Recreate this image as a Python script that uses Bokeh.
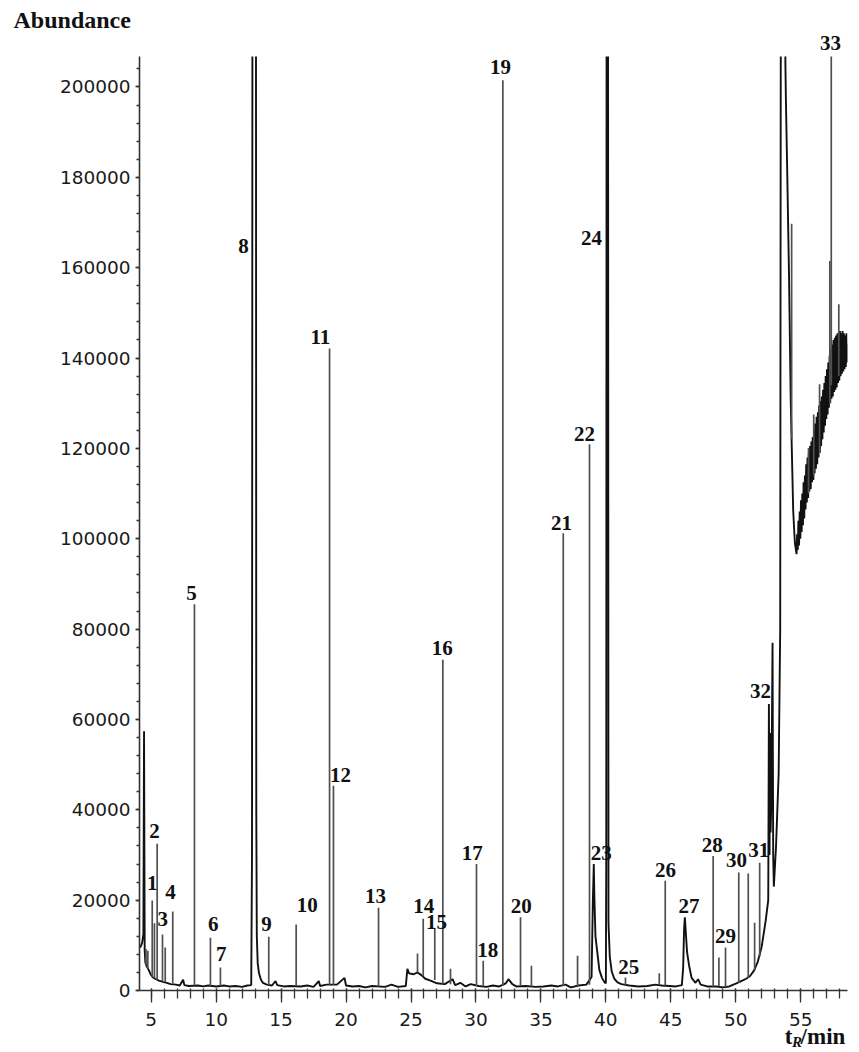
from bokeh.plotting import figure
from bokeh.models import (Range1d, FixedTicker, BasicTickFormatter, LinearAxis,
                          ColumnDataSource, LabelSet, Title)
from bokeh.core.properties import value
from bokeh.embed import file_html
from bokeh.resources import INLINE

# ---- chromatogram baseline / broad features (retention time, abundance) ----
base_t = [4.15, 4.30, 4.40, 4.45, 4.50, 4.55, 4.65, 4.80, 4.95, 5.10, 5.30, 5.60,
          5.90, 6.20, 6.50, 6.90, 7.20, 7.46, 7.55, 7.90, 8.60, 9.00, 9.40, 10.0,
          10.6, 11.0, 11.5, 12.0, 12.4, 12.70, 12.76, 12.80, 13.06, 13.09, 13.13,
          13.20, 13.30, 13.45, 13.60, 13.90, 14.3, 14.57, 14.7, 15.2, 15.7, 16.5,
          17.0, 17.5, 17.9, 18.0, 18.5, 19.3, 19.88, 20.0, 20.5, 21.0, 21.5, 22.0,
          23.0, 23.5, 24.0, 24.6, 24.72, 24.85, 25.2, 25.5, 25.8, 26.1, 26.5, 27.0,
          27.6, 28.2, 28.4, 28.8, 29.2, 29.6, 30.2, 30.8, 31.3, 31.8, 32.3, 32.5,
          32.8, 33.1, 33.8, 34.6, 35.2, 35.8, 36.3, 36.9, 37.3, 37.9, 38.5, 38.9,
          39.0, 39.07, 39.12, 39.2, 39.33, 39.5, 39.7, 39.9, 40.0, 40.03, 40.06,
          40.16, 40.2, 40.3, 40.45, 40.65, 40.9, 41.2, 41.8, 42.5, 43.2, 43.8,
          44.3, 44.9, 45.4, 45.85, 45.95, 46.02, 46.08, 46.15, 46.25, 46.4, 46.6,
          46.9, 47.1, 47.3, 47.8, 48.5, 49.0, 49.5, 50.0, 50.5, 50.8, 51.1, 51.4,
          51.7, 52.0, 52.3, 52.5, 52.55, 52.6, 52.64, 52.68, 52.74, 52.83, 52.88,
          52.93, 53.1, 53.3, 53.42, 53.48, 53.76, 53.82, 53.86, 53.95, 54.1,
          54.23, 54.42, 54.55, 54.68]
base_y = [9500, 10500, 12500, 57400, 9000, 6200, 5400, 4600, 3600, 3000, 2600, 2200,
          1900, 1700, 1400, 1300, 1100, 2400, 1200, 1000, 1100, 900, 1100, 900,
          1100, 900, 1000, 800, 1100, 1200, 30000, 260000, 260000, 40000, 12000,
          6000, 3800, 2400, 1700, 1300, 1100, 2100, 1200, 900, 1000, 900,
          1100, 800, 2100, 1000, 1300, 1300, 2800, 1100, 900, 1000, 700, 1000,
          800, 1300, 800, 1000, 4800, 3800, 3600, 4000, 3400, 2600, 2200, 1600,
          1400, 2500, 1200, 1700, 900, 1400, 1000, 800, 1100, 900, 1600, 2500,
          1400, 900, 1000, 800, 900, 1100, 900, 1300, 700, 1100, 1300, 3000,
          20000, 28000, 20000, 12000, 8700, 4500, 2800, 1800, 1600, 30000, 260000,
          260000, 15000, 7500, 4200, 2600, 1800, 1400, 1100, 900, 1000, 1300,
          1100, 1000, 900, 1200, 5000, 13500, 16200, 13000, 8500, 5600, 2800,
          1700, 2500, 1300, 900, 900, 700, 900, 1500, 2200, 2600, 3200, 4400,
          6400, 9800, 15400, 20000, 63400, 30000, 57000, 35000, 42000, 77000, 30000,
          23000, 32000, 48000, 80000, 260000, 260000, 205000, 197000, 183000, 158000,
          130500, 106200, 99000, 96600]

# ---- noisy rising column-bleed band after 54.7 min ----
band_t = [54.72, 54.77, 54.82, 54.87, 54.92, 54.97, 55.02, 55.07, 55.12, 55.17,
          55.22, 55.27, 55.32, 55.37, 55.42, 55.47, 55.52, 55.57, 55.62, 55.67,
          55.72, 55.77, 55.82, 55.87, 55.92, 55.97, 56.02, 56.07, 56.12, 56.17,
          56.22, 56.27, 56.32, 56.37, 56.42, 56.47, 56.52, 56.57, 56.62, 56.67,
          56.72, 56.77, 56.82, 56.87, 56.92, 56.97, 57.02, 57.07, 57.12, 57.17,
          57.22, 57.27, 57.32, 57.37, 57.42, 57.47, 57.52, 57.57, 57.62, 57.67,
          57.72, 57.77, 57.82, 57.87, 57.92, 57.97, 58.02, 58.07, 58.12, 58.17,
          58.22, 58.27, 58.32, 58.37, 58.42, 58.47, 58.52, 58.57, 58.60]
band_y = [101000, 97500, 104000, 98500, 106000, 100000, 108500, 101500, 110000, 103000,
          112500, 104500, 114000, 106500, 116500, 108000, 118000, 109000, 119000, 110500,
          120500, 111000, 121500, 112500, 122500, 113000, 124000, 114500, 125500, 115500,
          127000, 116500, 128000, 118000, 129500, 119000, 130500, 120500, 131500, 122000,
          133000, 123500, 134500, 125000, 136000, 126500, 137500, 127500, 139000, 129000,
          140500, 130000, 142000, 131000, 143000, 131500, 144000, 132500, 144500, 133000,
          145000, 133500, 145500, 134500, 145500, 135000, 146000, 136000, 145500, 136500,
          146000, 137000, 145500, 137500, 145000, 138000, 145500, 139000, 143000]

# ---- narrow peaks: retention time, local baseline, apex abundance ----
spike_t = [4.60, 4.74, 5.08, 5.25, 5.46, 5.87, 6.08, 6.66, 8.33, 9.56, 10.33,
           14.05, 16.16, 18.73, 19.03, 22.50, 25.50, 25.94, 26.83, 27.45, 28.04,
           30.04, 30.56, 32.07, 33.43, 34.27, 36.72, 37.82, 38.74, 41.51, 44.11,
           44.57, 48.26, 48.70, 49.21, 50.23, 50.96, 51.45, 51.84, 54.30, 55.60,
           56.00, 56.45, 57.24, 57.35, 57.93]
spike_base = [5600, 4800, 3000, 2700, 2400, 2000, 1800, 1500, 1100, 1000, 1000,
              1200, 1000, 1300, 1300, 900, 4000, 3200, 2300, 1500, 1400,
              1000, 900, 1000, 1000, 900, 1000, 900, 1300, 1300, 1200,
              1100, 900, 900, 800, 1700, 2800, 4500, 7500, 122000, 110000,
              114000, 119000, 130000, 134000, 136000]
spike_top = [9200, 8800, 19900, 14900, 32500, 12400, 9500, 17500, 85500, 11700, 5100,
             11900, 14600, 142100, 45300, 18300, 8200, 15900, 13700, 73200, 4800,
             28000, 6600, 201500, 16200, 5500, 101200, 7700, 120900, 2900, 3800,
             24300, 29800, 7300, 9500, 26100, 25900, 15000, 28300, 169700, 120100,
             127500, 134200, 161500, 250000, 151900]

# ---- peak numbers (1-32 inside the plot; 33 sits above the frame) ----
peak_labels = [str(i) for i in range(1, 34)]
label_t = [5.08, 5.25, 5.89, 6.49, 8.10, 9.77, 10.39, 12.11, 13.88, 17.01, 18.03,
           19.57, 22.27, 25.99, 26.96, 27.40, 29.71, 30.91, 31.89, 33.48, 36.59,
           38.36, 39.64, 38.90, 41.77, 44.59, 46.39, 48.19, 49.21, 50.06, 51.77,
           51.91, 57.29]
label_y = [23900, 35300, 15900, 21900, 88100, 14700, 8000, 164800, 14700, 18900,
           144700, 47700, 20900, 18700, 15200, 75800, 30500, 8900, 204400, 18700,
           103500, 123200, 30500, 166600, 5200, 26600, 18700, 32100, 12100, 28800,
           31000, 66300, None]

# ---- axis texts ----
y_title = "Abundance"
x_unit_t = [54.06, 56.71]
x_unit_text = ["t", "/min"]
x_sub_t = [54.71]
x_sub_text = ["R"]

x_major = [5, 10, 15, 20, 25, 30, 35, 40, 45, 50, 55]
x_minor = list(range(4, 59))
y_major = [0, 20000, 40000, 60000, 80000, 100000, 120000, 140000, 160000,
           180000, 200000]
y_minor = list(range(0, 208000, 4000))

p = figure(width=855, height=1052, output_backend="svg", toolbar_location=None,
           x_range=Range1d(4.1, 58.6), y_range=Range1d(0, 206750), title=None)
p.min_border_left = 139
p.min_border_right = 8
p.min_border_top = 56
p.min_border_bottom = 62
p.outline_line_color = None
p.xgrid.visible = False
p.ygrid.visible = False

p.line(base_t + band_t, base_y + band_y, line_color="#111111", line_width=1.9)
p.segment(x0=spike_t, y0=spike_base, x1=spike_t, y1=spike_top,
          line_color="#505050", line_width=1.7)

for ax in (p.xaxis[0], p.yaxis[0]):
    ax.axis_line_color = "#333333"
    ax.axis_line_width = 1.6
    ax.major_tick_line_color = "#333333"
    ax.minor_tick_line_color = "#333333"
    ax.major_tick_line_width = 1.3
    ax.minor_tick_line_width = 1.3
    ax.major_label_text_font = "DejaVu Sans"
    ax.major_label_text_font_size = "18.5px"
    ax.major_label_text_color = "#1a1a1a"

p.xaxis.ticker = FixedTicker(ticks=x_major, minor_ticks=x_minor)
p.xaxis.major_tick_in = 2
p.xaxis.major_tick_out = 12
p.xaxis.minor_tick_in = 2
p.xaxis.minor_tick_out = 8
p.xaxis.major_label_standoff = 10

p.yaxis.ticker = FixedTicker(ticks=y_major, minor_ticks=y_minor)
p.yaxis.formatter = BasicTickFormatter(use_scientific=False)
p.yaxis.major_tick_in = 0
p.yaxis.major_tick_out = 4
p.yaxis.minor_tick_in = 0
p.yaxis.minor_tick_out = 3
p.yaxis.major_label_standoff = 5

n_in = len(label_t) - 1
src = ColumnDataSource(dict(x=label_t[:n_in], y=label_y[:n_in], text=peak_labels[:n_in]))
p.add_layout(LabelSet(x="x", y="y", text="text", source=src,
                      text_font=value("Liberation Serif"), text_font_style="bold",
                      text_font_size="21px", text_color="#111111",
                      text_align="center", text_baseline="middle"))


def text_axis(ticks, texts, size, style, standoff):
    ax = LinearAxis(ticker=FixedTicker(ticks=ticks, minor_ticks=[]),
                    major_label_overrides=dict(zip(ticks, texts)))
    ax.axis_line_color = None
    ax.major_tick_line_color = None
    ax.minor_tick_line_color = None
    ax.major_tick_in = 0
    ax.major_tick_out = 0
    ax.minor_tick_in = 0
    ax.minor_tick_out = 0
    ax.major_label_standoff = standoff
    ax.major_label_text_font = "Liberation Serif"
    ax.major_label_text_font_style = style
    ax.major_label_text_font_size = size
    ax.major_label_text_color = "#111111"
    return ax


# peak 33 number above the frame
p.add_layout(text_axis([label_t[-1]], [peak_labels[-1]], "21px", "bold", 7), "above")
p.add_layout(Title(text=y_title, align="left", offset=-126, standoff=0,
                   text_font="Liberation Serif", text_font_style="bold",
                   text_font_size="24px", text_color="#111111"), "above")

# t_R/min unit label
p.add_layout(text_axis(x_unit_t, x_unit_text, "23px", "bold", -5), "below")
p.add_layout(text_axis(x_sub_t, x_sub_text, "15px", "bold italic", -18), "below")

open("out.html", "w").write(file_html(p, INLINE))
